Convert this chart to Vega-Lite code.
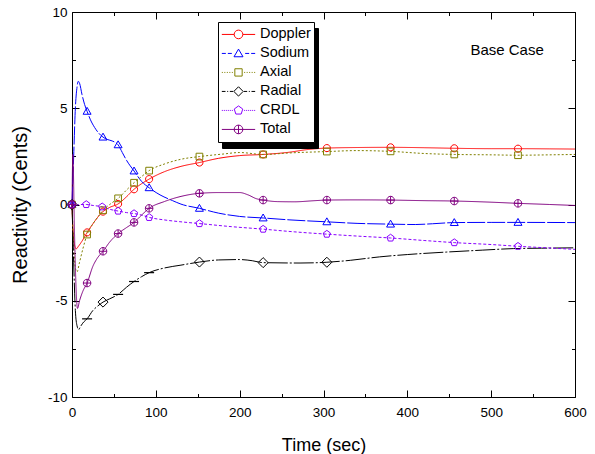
{
  "$schema": "https://vega.github.io/schema/vega-lite/v6.json",
  "width": 503,
  "height": 385,
  "autosize": {"type": "none"},
  "padding": {"left": 72, "top": 12, "right": 20, "bottom": 57},
  "background": "white",
  "config": {
    "font": "Liberation Sans",
    "view": {"stroke": null},
    "axis": {"grid": false, "domainColor": "black", "tickColor": "black", "labelColor": "black", "titleColor": "black", "labelFont": "Liberation Sans", "labelFontSize": 13.5, "titleFont": "Liberation Sans", "titleFontSize": 18, "titleFontWeight": "normal", "tickWidth": 1, "domainWidth": 1, "labelFlush": false}
  },
  "datasets": {
    "curves": [
      {"series":"Doppler","t":0,"v":0},{"series":"Doppler","t":1,"v":-1.2},{"series":"Doppler","t":3,"v":-2.1},{"series":"Doppler","t":5,"v":-2.3},{"series":"Doppler","t":8,"v":-2.15},{"series":"Doppler","t":12,"v":-1.9},{"series":"Doppler","t":18,"v":-1.45},{"series":"Doppler","t":25,"v":-1.0},{"series":"Doppler","t":30,"v":-0.7},{"series":"Doppler","t":37,"v":-0.37},{"series":"Doppler","t":45,"v":-0.15},{"series":"Doppler","t":55,"v":0.03},{"series":"Doppler","t":65,"v":0.4},{"series":"Doppler","t":74,"v":0.79},{"series":"Doppler","t":83,"v":1.08},{"series":"Doppler","t":92,"v":1.32},{"series":"Doppler","t":110,"v":1.7},{"series":"Doppler","t":130,"v":1.98},{"series":"Doppler","t":152,"v":2.18},{"series":"Doppler","t":175,"v":2.4},{"series":"Doppler","t":200,"v":2.54},{"series":"Doppler","t":228,"v":2.6},{"series":"Doppler","t":260,"v":2.72},{"series":"Doppler","t":280,"v":2.85},{"series":"Doppler","t":304,"v":2.93},{"series":"Doppler","t":340,"v":2.96},{"series":"Doppler","t":380,"v":2.97},{"series":"Doppler","t":420,"v":2.95},{"series":"Doppler","t":456,"v":2.92},{"series":"Doppler","t":500,"v":2.9},{"series":"Doppler","t":532,"v":2.9},{"series":"Doppler","t":570,"v":2.89},{"series":"Doppler","t":600,"v":2.88},
      {"series":"Sodium","t":0,"v":0},{"series":"Sodium","t":2,"v":2.5},{"series":"Sodium","t":4,"v":5.0},{"series":"Sodium","t":6,"v":6.1},{"series":"Sodium","t":7.5,"v":6.4},{"series":"Sodium","t":9,"v":6.3},{"series":"Sodium","t":12,"v":5.7},{"series":"Sodium","t":15,"v":5.2},{"series":"Sodium","t":18,"v":4.84},{"series":"Sodium","t":22,"v":4.4},{"series":"Sodium","t":27,"v":4.0},{"series":"Sodium","t":32,"v":3.7},{"series":"Sodium","t":37,"v":3.5},{"series":"Sodium","t":42,"v":3.38},{"series":"Sodium","t":48,"v":3.3},{"series":"Sodium","t":55,"v":3.1},{"series":"Sodium","t":60,"v":2.7},{"series":"Sodium","t":65,"v":2.3},{"series":"Sodium","t":74,"v":1.74},{"series":"Sodium","t":83,"v":1.2},{"series":"Sodium","t":92,"v":0.87},{"series":"Sodium","t":105,"v":0.5},{"series":"Sodium","t":120,"v":0.2},{"series":"Sodium","t":130,"v":0.02},{"series":"Sodium","t":152,"v":-0.2},{"series":"Sodium","t":175,"v":-0.45},{"series":"Sodium","t":200,"v":-0.62},{"series":"Sodium","t":228,"v":-0.7},{"series":"Sodium","t":260,"v":-0.8},{"series":"Sodium","t":304,"v":-0.9},{"series":"Sodium","t":340,"v":-0.98},{"series":"Sodium","t":380,"v":-1.02},{"series":"Sodium","t":410,"v":-1.04},{"series":"Sodium","t":430,"v":-1.0},{"series":"Sodium","t":456,"v":-0.94},{"series":"Sodium","t":500,"v":-0.93},{"series":"Sodium","t":532,"v":-0.93},{"series":"Sodium","t":600,"v":-0.94},
      {"series":"Axial","t":0,"v":0},{"series":"Axial","t":2,"v":-2.0},{"series":"Axial","t":4,"v":-3.3},{"series":"Axial","t":6,"v":-3.5},{"series":"Axial","t":9,"v":-3.0},{"series":"Axial","t":13,"v":-2.3},{"series":"Axial","t":18,"v":-1.56},{"series":"Axial","t":25,"v":-1.0},{"series":"Axial","t":30,"v":-0.7},{"series":"Axial","t":37,"v":-0.3},{"series":"Axial","t":45,"v":0.0},{"series":"Axial","t":55,"v":0.32},{"series":"Axial","t":65,"v":0.75},{"series":"Axial","t":74,"v":1.13},{"series":"Axial","t":83,"v":1.45},{"series":"Axial","t":92,"v":1.76},{"series":"Axial","t":110,"v":2.1},{"series":"Axial","t":130,"v":2.35},{"series":"Axial","t":152,"v":2.49},{"series":"Axial","t":180,"v":2.62},{"series":"Axial","t":200,"v":2.7},{"series":"Axial","t":228,"v":2.6},{"series":"Axial","t":260,"v":2.68},{"series":"Axial","t":304,"v":2.75},{"series":"Axial","t":340,"v":2.8},{"series":"Axial","t":380,"v":2.76},{"series":"Axial","t":420,"v":2.65},{"series":"Axial","t":456,"v":2.6},{"series":"Axial","t":500,"v":2.58},{"series":"Axial","t":532,"v":2.56},{"series":"Axial","t":570,"v":2.58},{"series":"Axial","t":600,"v":2.6},
      {"series":"Radial","t":0,"v":0},{"series":"Radial","t":2,"v":-3.0},{"series":"Radial","t":4,"v":-5.5},{"series":"Radial","t":6,"v":-6.3},{"series":"Radial","t":8,"v":-6.5},{"series":"Radial","t":10,"v":-6.35},{"series":"Radial","t":14,"v":-6.1},{"series":"Radial","t":18,"v":-5.94},{"series":"Radial","t":25,"v":-5.5},{"series":"Radial","t":30,"v":-5.3},{"series":"Radial","t":37,"v":-5.07},{"series":"Radial","t":45,"v":-4.9},{"series":"Radial","t":55,"v":-4.67},{"series":"Radial","t":65,"v":-4.3},{"series":"Radial","t":74,"v":-4.0},{"series":"Radial","t":83,"v":-3.75},{"series":"Radial","t":92,"v":-3.54},{"series":"Radial","t":110,"v":-3.3},{"series":"Radial","t":130,"v":-3.15},{"series":"Radial","t":152,"v":-2.99},{"series":"Radial","t":175,"v":-2.88},{"series":"Radial","t":200,"v":-2.86},{"series":"Radial","t":215,"v":-2.92},{"series":"Radial","t":228,"v":-3.02},{"series":"Radial","t":272,"v":-3.04},{"series":"Radial","t":304,"v":-3.0},{"series":"Radial","t":332,"v":-2.9},{"series":"Radial","t":367,"v":-2.72},{"series":"Radial","t":400,"v":-2.6},{"series":"Radial","t":447,"v":-2.47},{"series":"Radial","t":490,"v":-2.37},{"series":"Radial","t":527,"v":-2.29},{"series":"Radial","t":560,"v":-2.27},{"series":"Radial","t":600,"v":-2.25},
      {"series":"CRDL","t":0,"v":0},{"series":"CRDL","t":3,"v":-0.1},{"series":"CRDL","t":8,"v":0.0},{"series":"CRDL","t":17,"v":0.0},{"series":"CRDL","t":25,"v":-0.05},{"series":"CRDL","t":36,"v":-0.12},{"series":"CRDL","t":45,"v":-0.25},{"series":"CRDL","t":55,"v":-0.34},{"series":"CRDL","t":65,"v":-0.42},{"series":"CRDL","t":74,"v":-0.47},{"series":"CRDL","t":83,"v":-0.55},{"series":"CRDL","t":92,"v":-0.67},{"series":"CRDL","t":110,"v":-0.8},{"series":"CRDL","t":130,"v":-0.9},{"series":"CRDL","t":152,"v":-0.99},{"series":"CRDL","t":190,"v":-1.15},{"series":"CRDL","t":228,"v":-1.28},{"series":"CRDL","t":265,"v":-1.42},{"series":"CRDL","t":304,"v":-1.54},{"series":"CRDL","t":340,"v":-1.64},{"series":"CRDL","t":380,"v":-1.74},{"series":"CRDL","t":420,"v":-1.87},{"series":"CRDL","t":456,"v":-1.98},{"series":"CRDL","t":500,"v":-2.08},{"series":"CRDL","t":532,"v":-2.17},{"series":"CRDL","t":570,"v":-2.26},{"series":"CRDL","t":600,"v":-2.33},
      {"series":"Total","t":0,"v":0},{"series":"Total","t":1,"v":2.6},{"series":"Total","t":3,"v":-1.5},{"series":"Total","t":5,"v":-4.5},{"series":"Total","t":6.5,"v":-5.4},{"series":"Total","t":9,"v":-5.0},{"series":"Total","t":13,"v":-4.5},{"series":"Total","t":18,"v":-4.08},{"series":"Total","t":25,"v":-3.2},{"series":"Total","t":30,"v":-2.8},{"series":"Total","t":37,"v":-2.43},{"series":"Total","t":45,"v":-1.95},{"series":"Total","t":55,"v":-1.51},{"series":"Total","t":65,"v":-1.2},{"series":"Total","t":74,"v":-0.93},{"series":"Total","t":83,"v":-0.55},{"series":"Total","t":92,"v":-0.2},{"series":"Total","t":110,"v":0.15},{"series":"Total","t":130,"v":0.42},{"series":"Total","t":152,"v":0.58},{"series":"Total","t":175,"v":0.62},{"series":"Total","t":200,"v":0.62},{"series":"Total","t":210,"v":0.5},{"series":"Total","t":220,"v":0.3},{"series":"Total","t":228,"v":0.23},{"series":"Total","t":245,"v":0.15},{"series":"Total","t":265,"v":0.14},{"series":"Total","t":290,"v":0.2},{"series":"Total","t":304,"v":0.23},{"series":"Total","t":340,"v":0.24},{"series":"Total","t":380,"v":0.23},{"series":"Total","t":420,"v":0.2},{"series":"Total","t":456,"v":0.18},{"series":"Total","t":500,"v":0.12},{"series":"Total","t":532,"v":0.06},{"series":"Total","t":570,"v":0.0},{"series":"Total","t":600,"v":-0.05}
    ],
    "marks": [
      {"series":"Doppler","t":0,"v":0},{"series":"Doppler","t":18,"v":-1.45},{"series":"Doppler","t":37,"v":-0.37},{"series":"Doppler","t":55,"v":0.03},{"series":"Doppler","t":74,"v":0.79},{"series":"Doppler","t":92,"v":1.32},{"series":"Doppler","t":152,"v":2.18},{"series":"Doppler","t":228,"v":2.6},{"series":"Doppler","t":304,"v":2.93},{"series":"Doppler","t":380,"v":2.97},{"series":"Doppler","t":456,"v":2.92},{"series":"Doppler","t":532,"v":2.9},
      {"series":"Sodium","t":0,"v":0},{"series":"Sodium","t":18,"v":4.84},{"series":"Sodium","t":37,"v":3.5},{"series":"Sodium","t":55,"v":3.1},{"series":"Sodium","t":74,"v":1.74},{"series":"Sodium","t":92,"v":0.87},{"series":"Sodium","t":152,"v":-0.2},{"series":"Sodium","t":228,"v":-0.7},{"series":"Sodium","t":304,"v":-0.9},{"series":"Sodium","t":380,"v":-1.02},{"series":"Sodium","t":456,"v":-0.94},{"series":"Sodium","t":532,"v":-0.93},
      {"series":"Axial","t":0,"v":0},{"series":"Axial","t":18,"v":-1.56},{"series":"Axial","t":37,"v":-0.3},{"series":"Axial","t":55,"v":0.32},{"series":"Axial","t":74,"v":1.13},{"series":"Axial","t":92,"v":1.76},{"series":"Axial","t":152,"v":2.49},{"series":"Axial","t":228,"v":2.6},{"series":"Axial","t":304,"v":2.75},{"series":"Axial","t":380,"v":2.76},{"series":"Axial","t":456,"v":2.6},{"series":"Axial","t":532,"v":2.56},
      {"series":"Radial","t":0,"v":0},{"series":"Radial","t":37,"v":-5.07},{"series":"Radial","t":152,"v":-2.99},{"series":"Radial","t":228,"v":-3.02},{"series":"Radial","t":304,"v":-3.0},
      {"series":"CRDL","t":0,"v":0},{"series":"CRDL","t":17,"v":0.0},{"series":"CRDL","t":36,"v":-0.12},{"series":"CRDL","t":55,"v":-0.34},{"series":"CRDL","t":74,"v":-0.47},{"series":"CRDL","t":92,"v":-0.67},{"series":"CRDL","t":152,"v":-0.99},{"series":"CRDL","t":228,"v":-1.28},{"series":"CRDL","t":304,"v":-1.54},{"series":"CRDL","t":380,"v":-1.74},{"series":"CRDL","t":456,"v":-1.98},{"series":"CRDL","t":532,"v":-2.17},
      {"series":"Total","t":0,"v":0},{"series":"Total","t":18,"v":-4.08},{"series":"Total","t":37,"v":-2.43},{"series":"Total","t":55,"v":-1.51},{"series":"Total","t":74,"v":-0.93},{"series":"Total","t":92,"v":-0.2},{"series":"Total","t":152,"v":0.58},{"series":"Total","t":228,"v":0.23},{"series":"Total","t":304,"v":0.23},{"series":"Total","t":380,"v":0.23},{"series":"Total","t":456,"v":0.18},{"series":"Total","t":532,"v":0.06}
    ],
    "radialbars": [
      {"series":"Radial","t":18,"v":-5.94},{"series":"Radial","t":55,"v":-4.67},{"series":"Radial","t":74,"v":-4.0},{"series":"Radial","t":92,"v":-3.54}
    ],
    "names": [
      {"series":"Doppler"},{"series":"Sodium"},{"series":"Axial"},{"series":"Radial"},{"series":"CRDL"},{"series":"Total"}
    ]
  },
  "resolve": {"axis": {"x": "independent", "y": "independent"}, "legend": {"color": "independent", "shape": "independent", "strokeDash": "independent", "size": "independent"}},
  "layer": [
    {
      "data": {"name": "curves"},
      "mark": {"type": "line", "strokeWidth": 1, "interpolate": "monotone"},
      "encoding": {
        "x": {"field": "t", "type": "quantitative", "scale": {"domain": [0, 600], "nice": false, "zero": false},
          "axis": {"orient": "bottom", "title": "Time (sec)", "values": [0,50,100,150,200,250,300,350,400,450,500,550,600],
            "labelExpr": "datum.value % 100 === 0 ? datum.label : ''",
            "tickSize": {"condition": {"test": "datum.value % 100 === 0", "value": -7}, "value": -3.5},
            "labelPadding": 15, "titlePadding": 18}},
        "y": {"field": "v", "type": "quantitative", "scale": {"domain": [-10, 10], "nice": false, "zero": false},
          "axis": {"orient": "left", "title": "Reactivity (Cents)", "titleFontSize": 20, "values": [-10,-7.5,-5,-2.5,0,2.5,5,7.5,10],
            "labelExpr": "datum.value % 5 === 0 ? '' + datum.value : ''",
            "tickSize": {"condition": {"test": "datum.value % 5 === 0", "value": -7}, "value": -3.5},
            "labelPadding": 12, "titlePadding": 17}},
        "color": {"field": "series", "type": "nominal", "legend": null,
          "scale": {"domain": ["Doppler","Sodium","Axial","Radial","CRDL","Total"], "range": ["#ff0000","#0000ff","#808000","#000000","#8800ff","#800080"]}},
        "strokeDash": {"field": "series", "type": "nominal", "legend": null,
          "scale": {"domain": ["Doppler","Sodium","Axial","Radial","CRDL","Total"], "range": [[1,0],[18,2],[2,2],[20,2,2,2],[3,2],[1,0]]}}
      }
    },
    {
      "data": {"name": "marks"},
      "encoding": {
        "x": {"field": "t", "type": "quantitative",
          "axis": {"orient": "top", "title": null, "labels": false, "values": [0,50,100,150,200,250,300,350,400,450,500,550,600],
            "tickSize": {"condition": {"test": "datum.value % 100 === 0", "value": -7}, "value": -3.5}}},
        "y": {"field": "v", "type": "quantitative",
          "axis": {"orient": "right", "title": null, "labels": false, "values": [-10,-7.5,-5,-2.5,0,2.5,5,7.5,10],
            "tickSize": {"condition": {"test": "datum.value % 5 === 0", "value": -7}, "value": -3.5}}},
        "color": {"field": "series", "type": "nominal", "legend": null}
      },
      "layer": [
        {"transform": [{"filter": "datum.series === 'Doppler'"}], "mark": {"type": "point", "filled": false, "strokeWidth": 1, "size": 70, "opacity": 1, "shape": "M0.85,0A0.85,0.85 0 1,1 -0.85,0A0.85,0.85 0 1,1 0.85,0Z"}},
        {"transform": [{"filter": "datum.series === 'Sodium'"}], "mark": {"type": "point", "filled": false, "strokeWidth": 1, "size": 70, "opacity": 1, "shape": "M0,-0.95L0.95,0.7L-0.95,0.7Z"}},
        {"transform": [{"filter": "datum.series === 'Axial'"}], "mark": {"type": "point", "filled": false, "strokeWidth": 1, "size": 70, "opacity": 1, "shape": "M-0.8,-0.8H0.8V0.8H-0.8Z"}},
        {"transform": [{"filter": "datum.series === 'Radial'"}], "mark": {"type": "point", "filled": false, "strokeWidth": 1, "size": 70, "opacity": 1, "shape": "M0,-1.2L1.2,0L0,1.2L-1.2,0Z"}},
        {"transform": [{"filter": "datum.series === 'CRDL'"}], "mark": {"type": "point", "filled": false, "strokeWidth": 1, "size": 70, "opacity": 1, "shape": "M0,-0.9L0.856,-0.278L0.529,0.728L-0.529,0.728L-0.856,-0.278Z"}},
        {"transform": [{"filter": "datum.series === 'Total'"}], "mark": {"type": "point", "filled": false, "strokeWidth": 1, "size": 70, "opacity": 1, "shape": "M0.9,0A0.9,0.9 0 1,1 -0.9,0A0.9,0.9 0 1,1 0.9,0ZM-0.9,0H0.9M0,-0.9V0.9"}}
      ]
    },
    {
      "data": {"name": "radialbars"},
      "mark": {"type": "point", "filled": false, "strokeWidth": 1.2, "size": 100, "opacity": 1, "shape": "M-1,0H1", "color": "#000000"},
      "encoding": {
        "x": {"field": "t", "type": "quantitative", "axis": null},
        "y": {"field": "v", "type": "quantitative", "axis": null}
      }
    },
    {
      "data": {"name": "names"},
      "mark": {"type": "point", "filled": false, "strokeWidth": 1, "size": 1110, "opacity": 0},
      "encoding": {
        "color": {"field": "series", "type": "nominal",
          "legend": {"orient": "none", "legendX": 146, "legendY": 10, "title": null, "padding": 3, "rowPadding": 0, "clipHeight": 18.85, "symbolSize": 1110, "symbolOpacity": 1, "labelOffset": 4, "labelFontSize": 14.5, "labelFont": "Liberation Sans", "labelColor": "black", "strokeColor": "black", "fillColor": "white", "symbolStrokeWidth": 1, "zindex": 2}},
        "shape": {"field": "series", "type": "nominal",
          "legend": {"orient": "none", "legendX": 146, "legendY": 10, "title": null, "padding": 3, "rowPadding": 0, "clipHeight": 18.85, "symbolSize": 1110, "symbolOpacity": 1, "labelOffset": 4, "labelFontSize": 14.5, "labelFont": "Liberation Sans", "labelColor": "black", "strokeColor": "black", "fillColor": "white", "symbolStrokeWidth": 1, "zindex": 2},
          "scale": {"domain": ["Doppler","Sodium","Axial","Radial","CRDL","Total"],
            "range": [
              "M-1,0H-0.26M0.26,0H1M0.26,0A0.26,0.26 0 1,1 -0.26,0A0.26,0.26 0 1,1 0.26,0",
              "M-1,0H-0.76M-0.64,0H-0.4M0.4,0H0.64M0.76,0H1M0,-0.26L0.27,0.2L-0.27,0.2Z",
              "M-1,0h0.06M-0.85,0h0.06M-0.7,0h0.06M-0.55,0h0.06M-0.4,0h0.06M0.34,0h0.06M0.49,0h0.06M0.64,0h0.06M0.79,0h0.06M0.94,0h0.06M-0.22,-0.22H0.22V0.22H-0.22Z",
              "M-1,0H-0.78M-0.68,0h0.06M-0.52,0H-0.32M0.32,0H0.52M0.62,0h0.06M0.78,0H1M0,-0.28L0.28,0L0,0.28L-0.28,0Z",
              "M-1,0h0.06M-0.88,0h0.06M-0.76,0h0.06M-0.64,0h0.06M-0.52,0h0.06M-0.4,0h0.06M0.34,0h0.06M0.46,0h0.06M0.58,0h0.06M0.7,0h0.06M0.82,0h0.06M0.94,0h0.06M0,-0.27L0.257,-0.083L0.159,0.218L-0.159,0.218L-0.257,-0.083Z",
              "M-1,0H1M0.26,0A0.26,0.26 0 1,1 -0.26,0A0.26,0.26 0 1,1 0.26,0M0,-0.26V0.26"
            ]}},
        "size": {"field": "series", "type": "ordinal",
          "scale": {"domain": ["Total","CRDL","Radial","Axial","Sodium","Doppler"], "range": [1110,1110,1110,1110,1110,1110]},
          "legend": {"orient": "none", "legendX": 150, "legendY": 16, "title": null, "padding": 3, "rowPadding": 0, "clipHeight": 18.85, "symbolOpacity": 0, "labelExpr": "''", "labelOffset": 55, "labelFontSize": 14.5, "labelFont": "Liberation Sans", "labelColor": "black", "strokeColor": "black", "fillColor": "black", "symbolStrokeColor": "black", "symbolFillColor": "black", "zindex": 1}}
      }
    },
    {
      "data": {"values": [{}]},
      "mark": {"type": "text", "text": "Base Case", "fontSize": 15, "font": "Liberation Sans", "color": "black"},
      "encoding": {
        "x": {"datum": 519, "type": "quantitative", "axis": null},
        "y": {"datum": 8.05, "type": "quantitative", "axis": null}
      }
    }
  ]
}
